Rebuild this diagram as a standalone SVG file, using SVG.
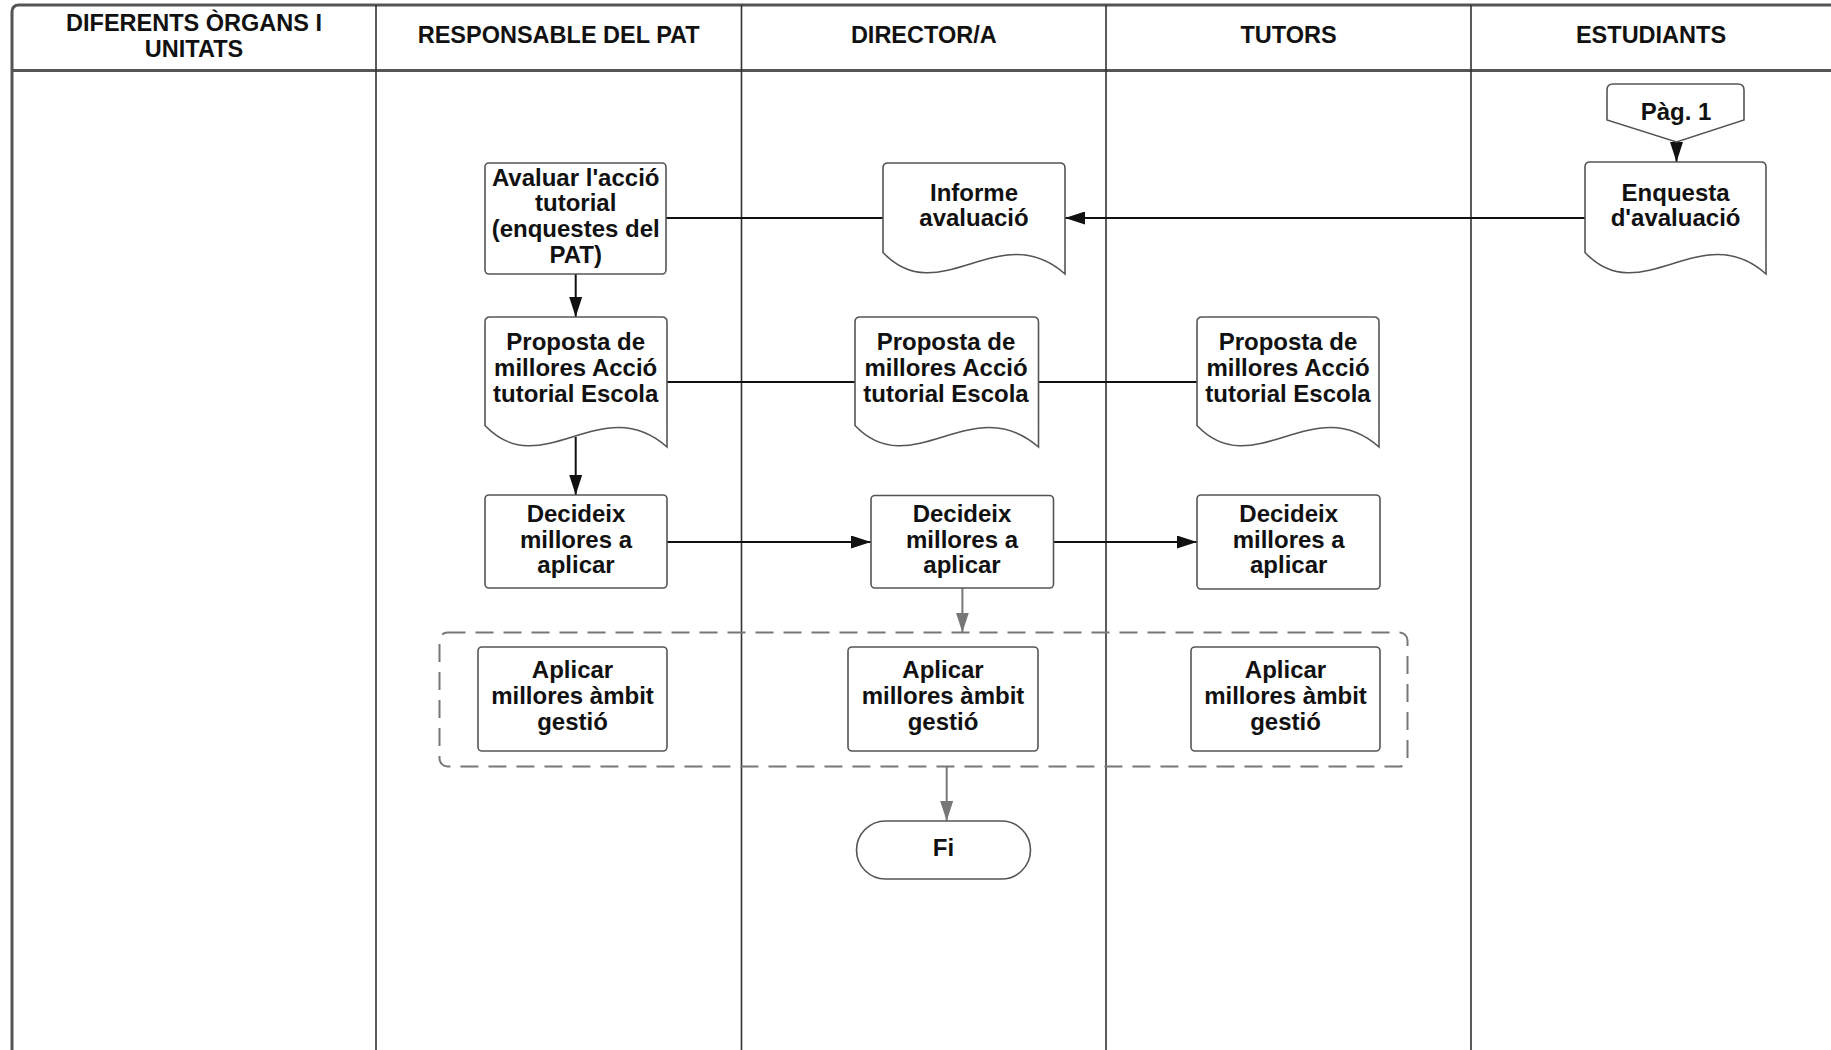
<svg xmlns="http://www.w3.org/2000/svg" width="1831" height="1050" viewBox="0 0 1831 1050">
<style>
.hdr{font-family:"Liberation Sans",Arial,sans-serif;font-weight:bold;font-size:23.5px;fill:#111;text-anchor:middle}
.t{font-family:"Liberation Sans",Arial,sans-serif;font-weight:bold;font-size:24px;fill:#111;text-anchor:middle}
.box{fill:#fff;stroke:#555;stroke-width:1.6}
.lane{stroke:#333;stroke-width:1.6;fill:none}
.frame{stroke:#555;stroke-width:3;fill:none}
.c{stroke:#111;stroke-width:2;fill:none}
.g{stroke:#777;stroke-width:2;fill:none}
</style>
<defs>
<marker id="ab" markerUnits="userSpaceOnUse" viewBox="0 0 20 13" refX="20" refY="6.5" markerWidth="20" markerHeight="13" orient="auto">
<path d="M0,0 L20,6.5 L0,13 z" fill="#111"/>
</marker>
<marker id="ag" markerUnits="userSpaceOnUse" viewBox="0 0 20 13" refX="20" refY="6.5" markerWidth="20" markerHeight="13" orient="auto">
<path d="M0,0 L20,6.5 L0,13 z" fill="#777"/>
</marker>
</defs>
<rect width="1831" height="1050" fill="#fff"/>
<g id="lanes">
<path class="frame" d="M12,1050 V12 Q12,5 19,5 H1831"/>
<path class="frame" d="M12,70.5 H1831"/>
<path class="lane" d="M376,5 V1050 M741.5,5 V1050 M1106,5 V1050 M1471,5 V1050"/>
<text class="hdr" x="194" y="30.5">DIFERENTS ÒRGANS I</text>
<text class="hdr" x="194" y="56.5">UNITATS</text>
<text class="hdr" x="558.7" y="43">RESPONSABLE DEL PAT</text>
<text class="hdr" x="923.8" y="43">DIRECTOR/A</text>
<text class="hdr" x="1288.5" y="43">TUTORS</text>
<text class="hdr" x="1651" y="43">ESTUDIANTS</text>
</g>
<g id="connectors">
<path class="c" d="M1676.5,142 V162" marker-end="url(#ab)"/>
<path class="c" d="M1585,218 H1065" marker-end="url(#ab)"/>
<path class="c" d="M666,218 H883"/>
<path class="c" d="M575.7,274 V317" marker-end="url(#ab)"/>
<path class="c" d="M667,382 H855 M1038.5,382 H1197"/>
<path class="c" d="M575.7,437 V495" marker-end="url(#ab)"/>
<path class="c" d="M667,542 H871" marker-end="url(#ab)"/>
<path class="c" d="M1053.5,542 H1197" marker-end="url(#ab)"/>
<path class="g" d="M962.4,588 V632.5" marker-end="url(#ag)"/>
<path class="g" d="M946.7,767 V821" marker-end="url(#ag)"/>
</g>
<g id="group-apply">
<rect x="439.5" y="632.5" width="968" height="134" rx="8" fill="none" stroke="#777" stroke-width="2" stroke-dasharray="18 10"/>
</g>
<g id="pag1">
<path class="box" d="M1613,84 L1738,84 Q1744,84 1744,90 L1744,120 L1676.5,142 L1607,120 L1607,90 Q1607,84 1613,84 Z"/>
<text class="t" x="1676" y="120">Pàg. 1</text>
</g>
<g id="enquesta">
<path class="box" d="M1590,162 H1761 Q1766,162 1766,167 V274 C1700.8,216 1641.1,312 1585,252.5 V167 Q1585,162 1590,162 Z"/>
<text class="t" x="1675.6" y="200.7">Enquesta</text>
<text class="t" x="1675.6" y="226.4">d'avaluació</text>
</g>
<g id="informe">
<path class="box" d="M888,163 H1060 Q1065,163 1065,168 V274 C999.5,216 939.4,312 883,252.5 V168 Q883,163 888,163 Z"/>
<text class="t" x="974" y="200.7">Informe</text>
<text class="t" x="974" y="226.4">avaluació</text>
</g>
<g id="avaluar">
<rect class="box" x="485" y="163" width="181" height="111" rx="4"/>
<text class="t" x="575.7" y="185.5">Avaluar l'acció</text>
<text class="t" x="575.7" y="211">tutorial</text>
<text class="t" x="575.7" y="237">(enquestes del</text>
<text class="t" x="575.7" y="262.5">PAT)</text>
</g>
<g id="proposta-pat">
<path class="box" d="M490,317 H662 Q667,317 667,322 V447 C601.5,389 541.4,485 485,425.5 V322 Q485,317 490,317 Z"/>
<text class="t" x="575.7" y="350">Proposta de</text>
<text class="t" x="575.7" y="376">millores Acció</text>
<text class="t" x="575.7" y="401.5">tutorial Escola</text>
</g>
<g id="proposta-dir">
<path class="box" d="M860,317 H1033.5 Q1038.5,317 1038.5,322 V447 C972.1,389 911.7,485 855,425.5 V322 Q855,317 860,317 Z"/>
<text class="t" x="946" y="350">Proposta de</text>
<text class="t" x="946" y="376">millores Acció</text>
<text class="t" x="946" y="401.5">tutorial Escola</text>
</g>
<g id="proposta-tut">
<path class="box" d="M1202,317 H1374 Q1379,317 1379,322 V447 C1313.5,389 1253.4,485 1197,425.5 V322 Q1197,317 1202,317 Z"/>
<text class="t" x="1288" y="350">Proposta de</text>
<text class="t" x="1288" y="376">millores Acció</text>
<text class="t" x="1288" y="401.5">tutorial Escola</text>
</g>
<g id="decideix-pat">
<rect class="box" x="485" y="495" width="182" height="93" rx="4"/>
<text class="t" x="576" y="522">Decideix</text>
<text class="t" x="576" y="547.5">millores a</text>
<text class="t" x="576" y="573">aplicar</text>
</g>
<g id="decideix-dir">
<rect class="box" x="871" y="495.5" width="182.5" height="92.5" rx="4"/>
<text class="t" x="962" y="522">Decideix</text>
<text class="t" x="962" y="547.5">millores a</text>
<text class="t" x="962" y="573">aplicar</text>
</g>
<g id="decideix-tut">
<rect class="box" x="1197" y="495" width="183" height="94" rx="4"/>
<text class="t" x="1288.7" y="522">Decideix</text>
<text class="t" x="1288.7" y="547.5">millores a</text>
<text class="t" x="1288.7" y="573">aplicar</text>
</g>
<g id="aplicar-pat">
<rect class="box" x="478" y="647" width="189" height="104" rx="4"/>
<text class="t" x="572.5" y="678">Aplicar</text>
<text class="t" x="572.5" y="704">millores àmbit</text>
<text class="t" x="572.5" y="729.6">gestió</text>
</g>
<g id="aplicar-dir">
<rect class="box" x="848" y="647" width="190" height="104" rx="4"/>
<text class="t" x="943" y="678">Aplicar</text>
<text class="t" x="943" y="704">millores àmbit</text>
<text class="t" x="943" y="729.6">gestió</text>
</g>
<g id="aplicar-tut">
<rect class="box" x="1191" y="647" width="189" height="104" rx="4"/>
<text class="t" x="1285.5" y="678">Aplicar</text>
<text class="t" x="1285.5" y="704">millores àmbit</text>
<text class="t" x="1285.5" y="729.6">gestió</text>
</g>
<g id="fi">
<rect class="box" x="856.5" y="821" width="174" height="58" rx="29"/>
<text class="t" x="943.5" y="856">Fi</text>
</g>
</svg>
